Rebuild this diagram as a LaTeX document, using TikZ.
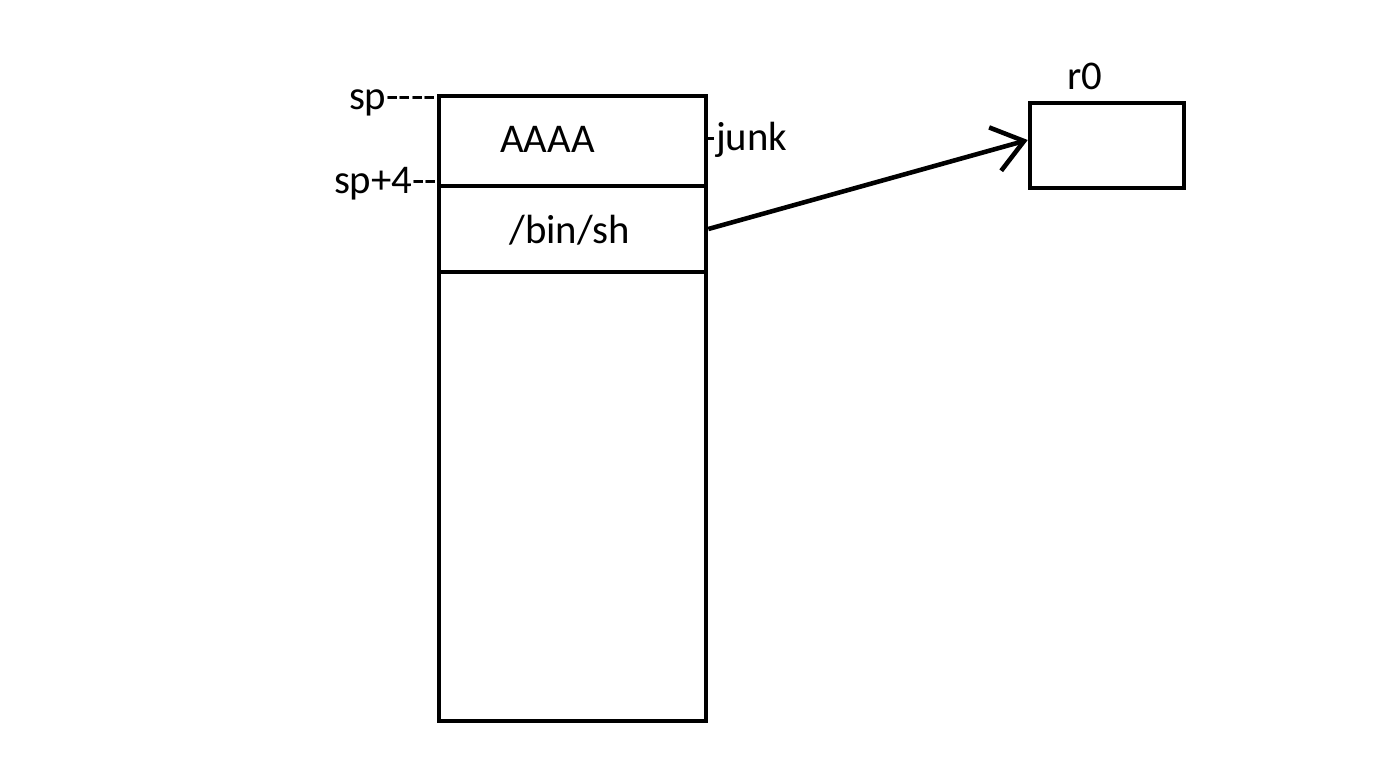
\documentclass[tikz,border=0pt]{standalone}
\usepackage{fontspec}
\setmainfont{Carlito}[Ligatures=TeXOff]
\usetikzlibrary{arrows.meta}
\tikzset{
	cell/.style={draw, line width=1.3pt, minimum width=2.67cm, inner sep=0pt},
	reg/.style={draw, line width=1.3pt, minimum width=1.54cm, minimum height=0.85cm, inner sep=0pt},
	txt/.style={font=\fontsize{11.6}{14}\selectfont, inner sep=0pt},
}

\begin{document}
\begin{tikzpicture}
\useasboundingbox (0,0) rectangle (14,-7.56);

	% stack
	\node[cell, minimum height=0.90cm] (junk) at (5.725,-1.41) {};
	\node[cell, minimum height=0.86cm] (bin) at (5.725,-2.29) {};
	\node[cell, minimum height=4.49cm] (rest) at (5.725,-4.965) {};

	\node[txt, anchor=base] (aaaa) at (5.475,-1.52) {AAAA};
	\node[txt, anchor=base] (binsh) at (5.695,-2.43) {/bin/sh};

	\node[txt, anchor=base east] (sp) at (4.37,-1.09) {sp----};
	\node[txt, anchor=base east] (sp4) at (4.38,-1.93) {sp+4--};
	\node[txt, anchor=base west] (jk) at (7.03,-1.50) {-junk};

	% register
	\node[reg] (r0) at (11.07,-1.455) {};
	\node[txt, anchor=base] (r0lbl) at (10.85,-0.89) {r0};

	\draw[line width=1.3pt, -{Straight Barb[length=3mm, width=4.5mm]}] (bin.east) -- ([yshift=0.055cm]r0.west);

\end{tikzpicture}
\end{document}
